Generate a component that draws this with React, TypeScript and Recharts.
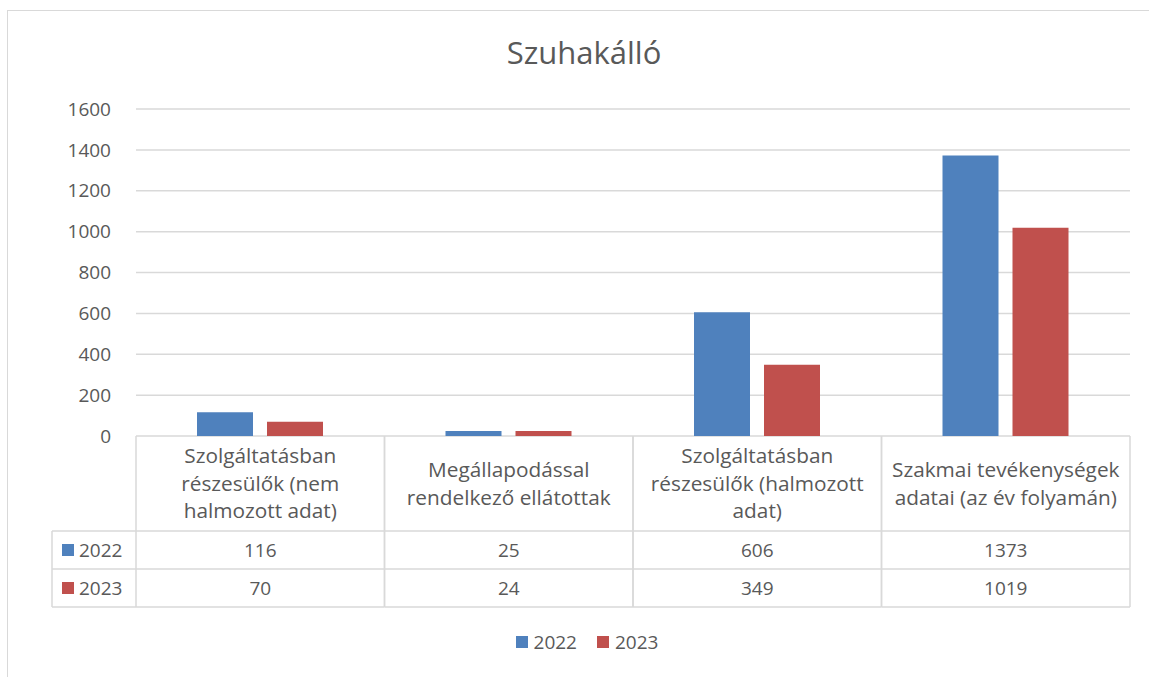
import React from "react";
import { BarChart, Bar, XAxis, YAxis, CartesianGrid, Legend } from "recharts";

const chartTitle = "Szuhakálló";
const categories = [
  "Szolgáltatásban részesülők (nem halmozott adat)",
  "Megállapodással rendelkező ellátottak",
  "Szolgáltatásban részesülők (halmozott adat)",
  "Szakmai tevékenységek adatai (az év folyamán)",
];
const seriesNames = ["2022", "2023"];
const values2022 = [116, 25, 606, 1373];
const values2023 = [70, 24, 349, 1019];
const yTicks = [0, 200, 400, 600, 800, 1000, 1200, 1400, 1600];

const seriesColors = ["#4F81BD", "#C0504D"];
const seriesValues = [values2022, values2023];

const data = categories.map((name, i) => ({
  name,
  s2022: values2022[i],
  s2023: values2023[i],
}));

// layout
const W = 1149;
const H = 677;
const PLOT_LEFT = 136;
const PLOT_RIGHT = 1130;
const PLOT_TOP = 109;
const HEADER_H = 95;
const ROW_H = 38;
const LEGEND_COL_LEFT = 52;
const LEGEND_H = 70;
const TEXT = "#595959";
const LINE = "#d9d9d9";
const FONT = "'Open Sans', Lato, sans-serif";
const FS = 19; // numbers
const FS_HEAD = 20.8; // category header text

function wrap(text: string, max: number) {
  const words = text.split(" ");
  const lines: string[] = [];
  let cur = "";
  words.forEach((w) => {
    const next = cur ? cur + " " + w : w;
    if (next.length > max && cur) {
      lines.push(cur);
      cur = w;
    } else {
      cur = next;
    }
  });
  if (cur) lines.push(cur);
  return lines;
}

// x axis tick draws one column of the data table
function TableTick(props: any) {
  const { x, y, index } = props;
  const band = (PLOT_RIGHT - PLOT_LEFT) / categories.length;
  const left = x - band / 2;
  const right = x + band / 2;
  const top = y;
  const headBottom = top + HEADER_H;
  const row1 = headBottom + ROW_H;
  const row2 = row1 + ROW_H;
  const lines = wrap(categories[index], 23);
  const lh = 27.5;
  const firstY = top + HEADER_H / 2 - ((lines.length - 1) * lh) / 2;

  return (
    <g>
      <line x1={left} y1={top} x2={left} y2={row2} stroke={LINE} strokeWidth={1.5} />
      <line x1={right} y1={top} x2={right} y2={row2} stroke={LINE} strokeWidth={1.5} />
      <line x1={left} y1={headBottom} x2={right} y2={headBottom} stroke={LINE} strokeWidth={1.5} />
      <line x1={left} y1={row1} x2={right} y2={row1} stroke={LINE} strokeWidth={1.5} />
      <line x1={left} y1={row2} x2={right} y2={row2} stroke={LINE} strokeWidth={1.5} />
      {lines.map((l, i) => (
        <text
          key={i}
          x={x}
          y={firstY + i * lh}
          dy="0.35em"
          textAnchor="middle"
          fill={TEXT}
          fontSize={FS_HEAD}
        >
          {l}
        </text>
      ))}
      {seriesValues.map((vals, r) => (
        <text
          key={"v" + r}
          x={x}
          y={headBottom + ROW_H * r + ROW_H / 2}
          dy="0.35em"
          textAnchor="middle"
          fill={TEXT}
          fontSize={FS}
        >
          {vals[index]}
        </text>
      ))}
      {index === 0 && (
        <g>
          <line x1={LEGEND_COL_LEFT} y1={headBottom} x2={left} y2={headBottom} stroke={LINE} strokeWidth={1.5} />
          <line x1={LEGEND_COL_LEFT} y1={row1} x2={left} y2={row1} stroke={LINE} strokeWidth={1.5} />
          <line x1={LEGEND_COL_LEFT} y1={row2} x2={left} y2={row2} stroke={LINE} strokeWidth={1.5} />
          <line x1={LEGEND_COL_LEFT} y1={headBottom} x2={LEGEND_COL_LEFT} y2={row2} stroke={LINE} strokeWidth={1.5} />
          {seriesNames.map((n, r) => {
            const cy = headBottom + ROW_H * r + ROW_H / 2;
            return (
              <g key={n}>
                <rect x={LEGEND_COL_LEFT + 10} y={cy - 6} width={12} height={12} fill={seriesColors[r]} />
                <text x={LEGEND_COL_LEFT + 27} y={cy} dy="0.35em" fill={TEXT} fontSize={FS}>
                  {n}
                </text>
              </g>
            );
          })}
        </g>
      )}
    </g>
  );
}

function LegendContent() {
  return (
    <div
      style={{
        height: LEGEND_H,
        display: "flex",
        justifyContent: "center",
        alignItems: "center",
        paddingLeft: 44,
        boxSizing: "border-box",
        fontFamily: FONT,
        fontSize: FS,
        color: TEXT,
      }}
    >
      {seriesNames.map((n, i) => (
        <div key={n} style={{ display: "flex", alignItems: "center", marginRight: i === 0 ? 20 : 0 }}>
          <span style={{ width: 12, height: 12, background: seriesColors[i], display: "inline-block", marginRight: 6 }} />
          <span>{n}</span>
        </div>
      ))}
    </div>
  );
}

export default function App() {
  return (
    <div
      style={{
        position: "absolute",
        left: 0,
        top: 0,
        width: W,
        height: H,
        overflow: "hidden",
        background: "#fff",
        fontFamily: FONT,
      }}
    >
      <div
        style={{
          position: "absolute",
          left: 7,
          top: 10,
          width: 1200,
          height: 720,
          border: "1.5px solid #d9d9d9",
        }}
      />
      <div
        style={{
          position: "absolute",
          left: 584,
          top: 31,
          transform: "translateX(-50%)",
          fontSize: 31,
          color: TEXT,
          whiteSpace: "nowrap",
        }}
      >
        {chartTitle}
      </div>
      <div style={{ position: "absolute", left: 0, top: 0 }}>
        <BarChart
          width={W}
          height={H}
          data={data}
          margin={{ top: PLOT_TOP, right: W - PLOT_RIGHT, left: 0, bottom: 0 }}
          barGap={14}
          barCategoryGap={61}
        >
          <CartesianGrid vertical={false} stroke={LINE} strokeWidth={1.5} />
          <YAxis
            width={PLOT_LEFT}
            domain={[0, 1600]}
            ticks={yTicks}
            interval={0}
            axisLine={false}
            tickLine={false}
            tickSize={0}
            tickMargin={25}
            tick={{ fill: TEXT, fontSize: FS }}
          />
          <XAxis
            dataKey="name"
            height={HEADER_H + ROW_H * 2}
            axisLine={false}
            tickLine={false}
            tickSize={0}
            tickMargin={0}
            interval={0}
            tick={<TableTick />}
          />
          <Legend verticalAlign="bottom" content={<LegendContent />} />
          <Bar dataKey="s2022" name={seriesNames[0]} fill={seriesColors[0]} isAnimationActive={false} />
          <Bar dataKey="s2023" name={seriesNames[1]} fill={seriesColors[1]} isAnimationActive={false} />
        </BarChart>
      </div>
    </div>
  );
}
